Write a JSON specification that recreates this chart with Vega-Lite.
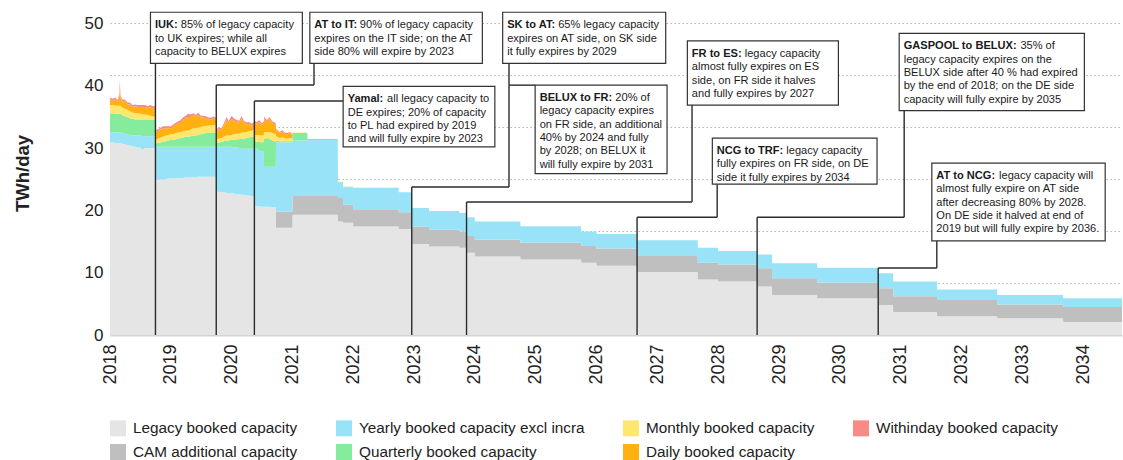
{
  "$schema": "https://vega.github.io/schema/vega-lite/v6.json",
  "width": 1012,
  "height": 324,
  "autosize": {"type": "none"},
  "padding": {"left": 110, "top": 11, "right": 1, "bottom": 125},
  "background": "white",
  "config": {"view": {"stroke": null}, "font": "Liberation Sans"},
  "datasets": {
    "cap": [
      {"date":"2018-01-01","L":30.9,"C":0,"Y":1.7,"Q":3.0,"M":1.3,"D":0.9,"W":0.3},
      {"date":"2018-01-15","L":30.9,"C":0,"Y":1.7,"Q":3.0,"M":1.3,"D":0.7,"W":0.3},
      {"date":"2018-02-01","L":30.8,"C":0,"Y":1.7,"Q":3.0,"M":1.3,"D":1.0,"W":0.3},
      {"date":"2018-02-15","L":30.8,"C":0,"Y":1.7,"Q":3.0,"M":1.3,"D":0.6,"W":0.3},
      {"date":"2018-02-26","L":30.8,"C":0,"Y":1.7,"Q":3.0,"M":1.3,"D":1.4,"W":0.4},
      {"date":"2018-03-01","L":30.8,"C":0,"Y":1.7,"Q":3.0,"M":1.3,"D":2.9,"W":1.2},
      {"date":"2018-03-05","L":30.8,"C":0,"Y":1.7,"Q":3.0,"M":1.3,"D":1.3,"W":0.4},
      {"date":"2018-03-15","L":30.7,"C":0,"Y":1.7,"Q":2.9,"M":1.2,"D":1.0,"W":0.3},
      {"date":"2018-04-01","L":30.6,"C":0,"Y":1.7,"Q":2.8,"M":1.2,"D":1.2,"W":0.3},
      {"date":"2018-04-15","L":30.5,"C":0,"Y":1.7,"Q":2.8,"M":1.1,"D":0.9,"W":0.3},
      {"date":"2018-05-01","L":30.4,"C":0,"Y":1.7,"Q":2.7,"M":1.1,"D":1.1,"W":0.3},
      {"date":"2018-05-15","L":30.3,"C":0,"Y":1.7,"Q":2.7,"M":1.0,"D":0.9,"W":0.3},
      {"date":"2018-06-01","L":30.2,"C":0,"Y":1.8,"Q":2.6,"M":1.0,"D":1.1,"W":0.3},
      {"date":"2018-06-15","L":30.1,"C":0,"Y":1.9,"Q":2.6,"M":1.0,"D":1.0,"W":0.3},
      {"date":"2018-07-01","L":30.1,"C":0,"Y":1.9,"Q":2.6,"M":0.9,"D":1.1,"W":0.3},
      {"date":"2018-07-15","L":29.7,"C":0,"Y":2.2,"Q":2.6,"M":0.9,"D":1.2,"W":0.3},
      {"date":"2018-08-01","L":30.0,"C":0,"Y":1.9,"Q":2.6,"M":0.9,"D":1.2,"W":0.3},
      {"date":"2018-08-15","L":30.0,"C":0,"Y":1.9,"Q":2.6,"M":0.8,"D":1.1,"W":0.3},
      {"date":"2018-09-01","L":30.0,"C":0,"Y":1.9,"Q":2.6,"M":0.7,"D":1.4,"W":0.3},
      {"date":"2018-09-15","L":30.0,"C":0,"Y":1.9,"Q":2.6,"M":0.6,"D":1.3,"W":0.3},
      {"date":"2018-09-30","L":30.0,"C":0,"Y":1.9,"Q":2.6,"M":0.5,"D":1.4,"W":0.3},
      {"date":"2018-10-01","L":24.9,"C":0,"Y":5.3,"Q":0.5,"M":0.6,"D":1.3,"W":0.3},
      {"date":"2018-10-15","L":24.9,"C":0,"Y":5.3,"Q":0.6,"M":0.7,"D":1.2,"W":0.3},
      {"date":"2018-11-01","L":25.0,"C":0,"Y":5.2,"Q":0.7,"M":0.8,"D":1.3,"W":0.3},
      {"date":"2018-11-15","L":25.0,"C":0,"Y":5.2,"Q":0.8,"M":0.8,"D":1.4,"W":0.3},
      {"date":"2018-12-01","L":25.0,"C":0,"Y":5.2,"Q":0.9,"M":0.9,"D":1.2,"W":0.3},
      {"date":"2018-12-15","L":25.1,"C":0,"Y":5.1,"Q":1.0,"M":0.9,"D":1.1,"W":0.3},
      {"date":"2019-01-01","L":25.1,"C":0,"Y":5.1,"Q":1.1,"M":0.9,"D":1.0,"W":0.3},
      {"date":"2019-01-15","L":25.1,"C":0,"Y":5.1,"Q":1.1,"M":0.9,"D":1.3,"W":0.3},
      {"date":"2019-02-01","L":25.2,"C":0,"Y":5.0,"Q":1.2,"M":1.0,"D":1.4,"W":0.3},
      {"date":"2019-02-15","L":25.2,"C":0,"Y":5.0,"Q":1.3,"M":1.0,"D":1.5,"W":0.3},
      {"date":"2019-03-01","L":25.2,"C":0,"Y":5.0,"Q":1.4,"M":1.0,"D":1.6,"W":0.3},
      {"date":"2019-03-15","L":25.2,"C":0,"Y":5.0,"Q":1.5,"M":1.0,"D":1.8,"W":0.4},
      {"date":"2019-04-01","L":25.3,"C":0,"Y":4.9,"Q":1.6,"M":1.0,"D":2.0,"W":0.4},
      {"date":"2019-04-15","L":25.3,"C":0,"Y":4.9,"Q":1.6,"M":1.0,"D":2.2,"W":0.5},
      {"date":"2019-05-01","L":25.3,"C":0,"Y":4.9,"Q":1.7,"M":1.1,"D":2.0,"W":0.4},
      {"date":"2019-05-15","L":25.3,"C":0,"Y":4.9,"Q":1.8,"M":1.2,"D":2.1,"W":0.3},
      {"date":"2019-06-01","L":25.3,"C":0,"Y":4.9,"Q":1.8,"M":1.2,"D":1.8,"W":0.3},
      {"date":"2019-06-15","L":25.4,"C":0,"Y":4.8,"Q":1.9,"M":1.2,"D":2.0,"W":0.4},
      {"date":"2019-07-01","L":25.4,"C":0,"Y":4.8,"Q":2.0,"M":1.2,"D":1.5,"W":0.3},
      {"date":"2019-07-15","L":25.4,"C":0,"Y":4.8,"Q":2.1,"M":1.2,"D":1.4,"W":0.3},
      {"date":"2019-08-01","L":25.4,"C":0,"Y":4.8,"Q":2.2,"M":1.2,"D":1.2,"W":0.3},
      {"date":"2019-08-15","L":25.4,"C":0,"Y":4.8,"Q":2.2,"M":1.2,"D":1.0,"W":0.3},
      {"date":"2019-09-01","L":25.4,"C":0,"Y":4.8,"Q":2.3,"M":1.2,"D":0.9,"W":0.3},
      {"date":"2019-09-15","L":25.4,"C":0,"Y":4.8,"Q":2.3,"M":1.2,"D":1.1,"W":0.3},
      {"date":"2019-09-30","L":25.4,"C":0,"Y":4.8,"Q":2.3,"M":1.2,"D":0.8,"W":0.3},
      {"date":"2019-10-01","L":23.0,"C":0,"Y":7.2,"Q":0.6,"M":0.6,"D":1.3,"W":0.3},
      {"date":"2019-10-15","L":23.0,"C":0,"Y":7.2,"Q":0.7,"M":0.6,"D":1.5,"W":0.3},
      {"date":"2019-11-01","L":22.9,"C":0,"Y":7.3,"Q":0.8,"M":0.6,"D":1.3,"W":0.3},
      {"date":"2019-11-15","L":22.9,"C":0,"Y":7.3,"Q":0.9,"M":0.7,"D":1.8,"W":0.3},
      {"date":"2019-12-01","L":22.8,"C":0,"Y":7.4,"Q":1.0,"M":0.8,"D":2.6,"W":0.4},
      {"date":"2019-12-15","L":22.8,"C":0,"Y":7.4,"Q":1.0,"M":0.8,"D":2.0,"W":0.3},
      {"date":"2020-01-01","L":22.7,"C":0,"Y":7.5,"Q":1.1,"M":0.8,"D":2.6,"W":0.5},
      {"date":"2020-01-15","L":22.7,"C":0,"Y":7.4,"Q":1.2,"M":0.9,"D":2.2,"W":0.4},
      {"date":"2020-02-01","L":22.6,"C":0,"Y":7.5,"Q":1.3,"M":0.9,"D":1.9,"W":0.3},
      {"date":"2020-02-15","L":22.6,"C":0,"Y":7.4,"Q":1.4,"M":0.9,"D":1.8,"W":0.3},
      {"date":"2020-03-01","L":22.5,"C":0,"Y":7.5,"Q":1.5,"M":1.0,"D":2.2,"W":0.4},
      {"date":"2020-03-15","L":22.5,"C":0,"Y":7.4,"Q":1.6,"M":1.0,"D":1.6,"W":0.3},
      {"date":"2020-04-01","L":22.4,"C":0,"Y":7.5,"Q":1.7,"M":1.0,"D":1.2,"W":0.3},
      {"date":"2020-04-15","L":22.4,"C":0,"Y":7.5,"Q":1.8,"M":1.0,"D":1.2,"W":0.3},
      {"date":"2020-05-01","L":22.3,"C":0,"Y":7.6,"Q":1.9,"M":1.0,"D":0.8,"W":0.3},
      {"date":"2020-05-16","L":22.3,"C":0,"Y":7.6,"Q":2.0,"M":1.1,"D":0.9,"W":0.3},
      {"date":"2020-05-17","L":20.7,"C":0,"Y":9.5,"Q":0.8,"M":1.1,"D":2.0,"W":0.3},
      {"date":"2020-06-01","L":20.7,"C":0,"Y":9.2,"Q":1.1,"M":1.1,"D":1.8,"W":0.3},
      {"date":"2020-06-15","L":20.7,"C":0,"Y":8.9,"Q":1.4,"M":1.1,"D":2.1,"W":0.3},
      {"date":"2020-07-01","L":20.6,"C":0,"Y":8.8,"Q":1.5,"M":1.1,"D":1.7,"W":0.3},
      {"date":"2020-07-13","L":20.6,"C":0,"Y":8.8,"Q":1.6,"M":1.1,"D":1.9,"W":0.3},
      {"date":"2020-07-14","L":20.6,"C":0,"Y":6.4,"Q":4.4,"M":1.2,"D":2.1,"W":0.3},
      {"date":"2020-08-01","L":20.6,"C":0,"Y":6.4,"Q":4.6,"M":1.0,"D":1.6,"W":0.3},
      {"date":"2020-08-15","L":20.6,"C":0,"Y":6.4,"Q":4.5,"M":1.1,"D":2.1,"W":0.3},
      {"date":"2020-09-01","L":20.5,"C":0,"Y":6.5,"Q":4.2,"M":1.2,"D":1.6,"W":0.3},
      {"date":"2020-09-23","L":20.5,"C":0,"Y":6.5,"Q":4.0,"M":1.2,"D":1.5,"W":0.3},
      {"date":"2020-09-24","L":17.2,"C":2.6,"Y":11.1,"Q":0.3,"M":0.7,"D":1.0,"W":0.2},
      {"date":"2020-10-15","L":17.2,"C":2.6,"Y":11.1,"Q":0.2,"M":0.5,"D":0.8,"W":0.2},
      {"date":"2020-11-01","L":17.2,"C":2.6,"Y":11.1,"Q":0.2,"M":0.6,"D":1.0,"W":0.2},
      {"date":"2020-11-15","L":17.2,"C":2.6,"Y":11.1,"Q":0.2,"M":0.5,"D":0.7,"W":0.2},
      {"date":"2020-12-01","L":17.2,"C":2.6,"Y":11.1,"Q":0.2,"M":0.4,"D":0.7,"W":0.2},
      {"date":"2020-12-15","L":17.2,"C":2.6,"Y":11.1,"Q":0.2,"M":0.5,"D":0.8,"W":0.2},
      {"date":"2020-12-31","L":17.2,"C":2.6,"Y":11.1,"Q":0.2,"M":0.4,"D":0.6,"W":0.2},
      {"date":"2021-01-01","L":19.3,"C":3.0,"Y":8.9,"Q":1.2,"M":0.1,"D":0,"W":0},
      {"date":"2021-03-31","L":19.3,"C":3.0,"Y":8.9,"Q":1.2,"M":0.1,"D":0,"W":0},
      {"date":"2021-04-01","L":19.3,"C":3.0,"Y":9.0,"Q":0.15,"M":0,"D":0,"W":0},
      {"date":"2021-09-30","L":19.3,"C":3.0,"Y":9.0,"Q":0.15,"M":0,"D":0,"W":0},
      {"date":"2021-10-01","L":18.2,"C":3.8,"Y":2.4,"Q":0.1,"M":0,"D":0,"W":0},
      {"date":"2021-10-31","L":18.2,"C":3.8,"Y":2.4,"Q":0.1,"M":0,"D":0,"W":0},
      {"date":"2021-11-01","L":18.0,"C":2.9,"Y":2.8,"Q":0.1,"M":0,"D":0,"W":0},
      {"date":"2021-12-31","L":18.0,"C":2.9,"Y":2.8,"Q":0.1,"M":0,"D":0,"W":0},
      {"date":"2022-01-01","L":17.4,"C":2.8,"Y":3.4,"Q":0,"M":0.08,"D":0,"W":0},
      {"date":"2022-09-30","L":17.4,"C":2.8,"Y":3.4,"Q":0,"M":0.08,"D":0,"W":0},
      {"date":"2022-10-01","L":17.0,"C":2.7,"Y":3.2,"Q":0,"M":0,"D":0,"W":0},
      {"date":"2022-12-17","L":17.0,"C":2.7,"Y":3.2,"Q":0,"M":0,"D":0,"W":0},
      {"date":"2022-12-18","L":14.6,"C":2.8,"Y":3.0,"Q":0,"M":0,"D":0,"W":0},
      {"date":"2023-03-31","L":14.6,"C":2.8,"Y":3.0,"Q":0,"M":0,"D":0,"W":0},
      {"date":"2023-04-01","L":14.2,"C":2.7,"Y":3.0,"Q":0,"M":0,"D":0,"W":0},
      {"date":"2023-09-30","L":14.2,"C":2.7,"Y":3.0,"Q":0,"M":0,"D":0,"W":0},
      {"date":"2023-10-01","L":14.0,"C":2.6,"Y":3.0,"Q":0,"M":0,"D":0,"W":0},
      {"date":"2023-11-11","L":14.0,"C":2.6,"Y":3.0,"Q":0,"M":0,"D":0,"W":0},
      {"date":"2023-11-12","L":13.2,"C":2.7,"Y":3.0,"Q":0,"M":0,"D":0,"W":0},
      {"date":"2023-12-31","L":13.2,"C":2.7,"Y":3.0,"Q":0,"M":0,"D":0,"W":0},
      {"date":"2024-01-01","L":12.6,"C":2.7,"Y":2.9,"Q":0,"M":0,"D":0,"W":0},
      {"date":"2024-09-30","L":12.6,"C":2.7,"Y":2.9,"Q":0,"M":0,"D":0,"W":0},
      {"date":"2024-10-01","L":12.1,"C":2.7,"Y":2.65,"Q":0,"M":0,"D":0,"W":0},
      {"date":"2025-09-30","L":12.1,"C":2.7,"Y":2.65,"Q":0,"M":0,"D":0,"W":0},
      {"date":"2025-10-01","L":11.6,"C":2.7,"Y":2.3,"Q":0,"M":0,"D":0,"W":0},
      {"date":"2025-12-31","L":11.6,"C":2.7,"Y":2.3,"Q":0,"M":0,"D":0,"W":0},
      {"date":"2026-01-01","L":11.1,"C":2.8,"Y":2.3,"Q":0,"M":0,"D":0,"W":0},
      {"date":"2026-08-31","L":11.1,"C":2.8,"Y":2.3,"Q":0,"M":0,"D":0,"W":0},
      {"date":"2026-09-01","L":10.1,"C":2.7,"Y":2.4,"Q":0,"M":0,"D":0,"W":0},
      {"date":"2027-08-31","L":10.1,"C":2.7,"Y":2.4,"Q":0,"M":0,"D":0,"W":0},
      {"date":"2027-09-01","L":8.9,"C":2.7,"Y":2.4,"Q":0,"M":0,"D":0,"W":0},
      {"date":"2027-12-31","L":8.9,"C":2.7,"Y":2.4,"Q":0,"M":0,"D":0,"W":0},
      {"date":"2028-01-01","L":8.6,"C":2.7,"Y":2.2,"Q":0,"M":0,"D":0,"W":0},
      {"date":"2028-08-21","L":8.6,"C":2.7,"Y":2.2,"Q":0,"M":0,"D":0,"W":0},
      {"date":"2028-08-22","L":7.8,"C":2.9,"Y":2.2,"Q":0,"M":0,"D":0,"W":0},
      {"date":"2028-11-19","L":7.8,"C":2.9,"Y":2.2,"Q":0,"M":0,"D":0,"W":0},
      {"date":"2028-11-20","L":6.4,"C":2.7,"Y":2.4,"Q":0,"M":0,"D":0,"W":0},
      {"date":"2029-08-17","L":6.4,"C":2.7,"Y":2.4,"Q":0,"M":0,"D":0,"W":0},
      {"date":"2029-08-18","L":5.9,"C":2.5,"Y":2.4,"Q":0,"M":0,"D":0,"W":0},
      {"date":"2030-08-18","L":5.9,"C":2.5,"Y":2.4,"Q":0,"M":0,"D":0,"W":0},
      {"date":"2030-08-19","L":4.8,"C":2.7,"Y":2.4,"Q":0,"M":0,"D":0,"W":0},
      {"date":"2030-11-16","L":4.8,"C":2.7,"Y":2.4,"Q":0,"M":0,"D":0,"W":0},
      {"date":"2030-11-17","L":3.7,"C":2.5,"Y":2.4,"Q":0,"M":0,"D":0,"W":0},
      {"date":"2031-08-07","L":3.7,"C":2.5,"Y":2.4,"Q":0,"M":0,"D":0,"W":0},
      {"date":"2031-08-08","L":3.0,"C":2.6,"Y":1.7,"Q":0,"M":0,"D":0,"W":0},
      {"date":"2032-08-02","L":3.0,"C":2.6,"Y":1.7,"Q":0,"M":0,"D":0,"W":0},
      {"date":"2032-08-03","L":2.7,"C":2.2,"Y":1.5,"Q":0,"M":0,"D":0,"W":0},
      {"date":"2033-09-02","L":2.7,"C":2.2,"Y":1.5,"Q":0,"M":0,"D":0,"W":0},
      {"date":"2033-09-03","L":2.1,"C":2.4,"Y":1.4,"Q":0,"M":0,"D":0,"W":0},
      {"date":"2034-08-22","L":2.1,"C":2.4,"Y":1.4,"Q":0,"M":0,"D":0,"W":0}
    ],
    "boxes": [
      {"id":1,"title":"IUK:","rest":"85% of legacy capacity","body":["to UK expires; while all","capacity to BELUX expires"],"x1":"2018-09-01","x2":"2021-03-01","yt":51.8,"yb":43.6},
      {"id":2,"title":"AT to IT:","rest":"90% of legacy capacity","body":["expires on the IT side; on the AT","side 80% will expire by 2023"],"x1":"2021-04-15","x2":"2024-02-15","yt":51.8,"yb":43.6},
      {"id":3,"title":"Yamal:","rest":"all legacy capacity to","body":["DE expires; 20% of capacity","to PL had expired by 2019","and will fully expire by 2023"],"x1":"2021-11-01","x2":"2024-04-30","yt":39.9,"yb":30.2},
      {"id":4,"title":"SK to AT:","rest":"65% legacy capacity","body":["expires on AT side, on SK side","it fully expires by 2029"],"x1":"2024-06-16","x2":"2027-02-20","yt":51.8,"yb":43.6},
      {"id":5,"title":"BELUX to FR:","rest":"20% of","body":["legacy capacity expires","on FR side, an additional","40% by 2024 and fully","by 2028; on BELUX it","will fully expire by 2031"],"x1":"2024-12-28","x2":"2027-02-28","yt":40.1,"yb":25.9},
      {"id":6,"title":"FR to ES:","rest":"legacy capacity","body":["almost fully expires on ES","side, on FR side it halves","and fully expires by 2027"],"x1":"2027-06-30","x2":"2029-12-23","yt":47.2,"yb":36.9},
      {"id":7,"title":"NCG to TRF:","rest":"legacy capacity","body":["fully expires on FR side, on DE","side it fully expires by 2034"],"x1":"2027-11-27","x2":"2030-08-12","yt":31.6,"yb":24.2},
      {"id":8,"title":"GASPOOL to BELUX:","rest":"35% of","body":["legacy capacity expires on the","BELUX side after 40 % had expired","by the end of 2018; on the DE side","capacity will fully expire by 2035"],"x1":"2030-12-23","x2":"2034-01-08","yt":48.4,"yb":36.0},
      {"id":9,"title":"AT to NCG:","rest":"legacy capacity will","body":["almost fully expire on AT side","after decreasing 80% by 2028.","On DE side it halved at end of","2019 but will fully expire by 2036."],"x1":"2031-07-07","x2":"2034-05-13","yt":27.6,"yb":15.1}
    ],
    "segs": [
      {"xa":"2018-10-01","xb":"2018-10-01","ya":43.6,"yb":0},
      {"xa":"2021-05-10","xb":"2021-05-10","ya":43.6,"yb":40.13},
      {"xa":"2019-10-01","xb":"2021-05-10","ya":40.13,"yb":40.13},
      {"xa":"2019-10-01","xb":"2019-10-01","ya":40.13,"yb":0},
      {"xa":"2020-05-17","xb":"2021-11-01","ya":37.56,"yb":37.56},
      {"xa":"2020-05-17","xb":"2020-05-17","ya":37.56,"yb":0},
      {"xa":"2024-07-24","xb":"2024-07-24","ya":43.6,"yb":23.76},
      {"xa":"2022-12-18","xb":"2024-07-24","ya":23.76,"yb":23.76},
      {"xa":"2022-12-18","xb":"2022-12-18","ya":23.76,"yb":0},
      {"xa":"2024-07-24","xb":"2024-12-28","ya":40.1,"yb":40.1},
      {"xa":"2027-07-28","xb":"2027-07-28","ya":36.9,"yb":21.35},
      {"xa":"2023-11-12","xb":"2027-07-28","ya":21.35,"yb":21.35},
      {"xa":"2023-11-12","xb":"2023-11-12","ya":21.35,"yb":0},
      {"xa":"2027-12-26","xb":"2027-12-26","ya":24.2,"yb":18.9},
      {"xa":"2026-09-01","xb":"2027-12-26","ya":18.9,"yb":18.9},
      {"xa":"2026-09-01","xb":"2026-09-01","ya":18.9,"yb":0},
      {"xa":"2031-01-22","xb":"2031-01-22","ya":36.0,"yb":18.9},
      {"xa":"2028-08-22","xb":"2031-01-22","ya":18.9,"yb":18.9},
      {"xa":"2028-08-22","xb":"2028-08-22","ya":18.9,"yb":0},
      {"xa":"2031-08-06","xb":"2031-08-06","ya":15.1,"yb":10.75},
      {"xa":"2030-08-19","xb":"2031-08-06","ya":10.75,"yb":10.75},
      {"xa":"2030-08-19","xb":"2030-08-19","ya":10.75,"yb":0}
    ]
  },
  "layer": [
    {
      "data": {"name": "cap"},
      "transform": [
        {"fold": ["L","C","Y","Q","M","D","W"], "as": ["series","val"]},
        {"calculate": "indexof(['L','C','Y','Q','M','D','W'], datum.series)", "as": "rank"}
      ],
      "mark": {"type": "area", "interpolate": "linear"},
      "encoding": {
        "x": {"field": "date", "type": "temporal", "title": null,
          "scale": {"type": "utc", "domain": [{"year": 2018, "month": 1, "date": 1, "utc": true}, {"year": 2034, "month": 8, "date": 22, "utc": true}], "nice": false},
          "axis": {"format": "%Y", "tickCount": {"interval": "year", "step": 1}, "labelAngle": -90, "labelAlign": "right", "labelBaseline": "middle", "labelPadding": 9, "ticks": false, "grid": false, "domainColor": "#cfd4d4", "domainWidth": 2, "labelFont": "Liberation Sans", "labelFontSize": 18, "labelColor": "#222", "labelOverlap": false, "labelFlush": false}},
        "y": {"field": "val", "type": "quantitative", "stack": "zero", "title": "TWh/day",
          "scale": {"domain": [0, 52], "nice": false, "zero": true},
          "axis": {"orient": "left", "values": [0,10,20,30,40,50], "grid": false, "ticks": false, "domain": false, "labelPadding": 7, "labelFont": "Liberation Sans", "labelFontSize": 17, "labelColor": "#222", "titleFont": "Liberation Sans", "titleFontWeight": "bold", "titleFontSize": 18.5, "titleColor": "#222", "titlePadding": 52}},
        "color": {"field": "series", "type": "nominal",
          "scale": {"domain": ["L","Y","M","W","C","Q","D"], "range": ["#e5e5e5","#98e3f8","#fde76e","#f98a86","#bfbfbf","#84ec9c","#ffb20f"]},
          "legend": {"orient": "bottom", "direction": "horizontal", "columns": 4, "title": null, "symbolType": "square", "symbolSize": 256, "symbolStrokeWidth": 0, "symbolOpacity": 1, "labelFont": "Liberation Sans", "labelFontSize": 15.3, "labelColor": "#222", "labelLimit": 400, "columnPadding": 38, "rowPadding": 7, "labelOffset": 7, "offset": 35,
            "labelExpr": "datum.label == 'L' ? 'Legacy booked capacity' : datum.label == 'C' ? 'CAM additional capacity' : datum.label == 'Y' ? 'Yearly booked capacity excl incra' : datum.label == 'Q' ? 'Quarterly booked capacity' : datum.label == 'M' ? 'Monthly booked capacity' : datum.label == 'D' ? 'Daily booked capacity' : 'Withinday booked capacity'"}},
        "order": {"field": "rank", "type": "quantitative"}
      }
    },
    {
      "data": {"name": "segs"},
      "mark": {"type": "rule", "color": "#2b2b2b", "strokeWidth": 1.4},
      "encoding": {
        "x": {"field": "xa", "type": "temporal", "title": null},
        "x2": {"field": "xb"},
        "y": {"field": "ya", "type": "quantitative", "title": null,
          "axis": {"orient": "left", "values": [8.3333, 16.6667, 25, 33.3333, 41.6667, 50], "grid": true, "gridDash": [1.5, 2.5], "gridColor": "#b5b5b5", "gridWidth": 1, "labels": false, "ticks": false, "domain": false, "title": null}},
        "y2": {"field": "yb"}
      }
    },
    {
      "data": {"name": "boxes"},
      "mark": {"type": "rect", "fill": "white", "stroke": "#333", "strokeWidth": 1.2},
      "encoding": {
        "x": {"field": "x1", "type": "temporal", "title": null},
        "x2": {"field": "x2"},
        "y": {"field": "yt", "type": "quantitative", "title": null, "axis": null},
        "y2": {"field": "yb"}
      }
    },
    {
      "data": {"name": "boxes"},
      "mark": {"type": "text", "align": "left", "baseline": "alphabetic", "dx": 4.5, "dy": 16, "font": "Liberation Sans", "fontSize": 11.07, "fontWeight": "bold", "color": "#1a1a1a"},
      "encoding": {
        "x": {"field": "x1", "type": "temporal", "title": null},
        "y": {"field": "yt", "type": "quantitative", "title": null, "axis": null},
        "text": {"field": "title"}
      }
    },
    {
      "data": {"name": "boxes"}, "transform": [{"filter": "datum.id == 1"}],
      "mark": {"type": "text", "align": "left", "baseline": "alphabetic", "dx": 30.3, "dy": 16, "font": "Liberation Sans", "fontSize": 11.07, "color": "#1a1a1a"},
      "encoding": {"x": {"field": "x1", "type": "temporal", "title": null}, "y": {"field": "yt", "type": "quantitative", "title": null, "axis": null}, "text": {"field": "rest"}}
    },
    {
      "data": {"name": "boxes"}, "transform": [{"filter": "datum.id == 2"}],
      "mark": {"type": "text", "align": "left", "baseline": "alphabetic", "dx": 50.0, "dy": 16, "font": "Liberation Sans", "fontSize": 11.07, "color": "#1a1a1a"},
      "encoding": {"x": {"field": "x1", "type": "temporal", "title": null}, "y": {"field": "yt", "type": "quantitative", "title": null, "axis": null}, "text": {"field": "rest"}}
    },
    {
      "data": {"name": "boxes"}, "transform": [{"filter": "datum.id == 3"}],
      "mark": {"type": "text", "align": "left", "baseline": "alphabetic", "dx": 43.9, "dy": 16, "font": "Liberation Sans", "fontSize": 11.07, "color": "#1a1a1a"},
      "encoding": {"x": {"field": "x1", "type": "temporal", "title": null}, "y": {"field": "yt", "type": "quantitative", "title": null, "axis": null}, "text": {"field": "rest"}}
    },
    {
      "data": {"name": "boxes"}, "transform": [{"filter": "datum.id == 4"}],
      "mark": {"type": "text", "align": "left", "baseline": "alphabetic", "dx": 55.5, "dy": 16, "font": "Liberation Sans", "fontSize": 11.07, "color": "#1a1a1a"},
      "encoding": {"x": {"field": "x1", "type": "temporal", "title": null}, "y": {"field": "yt", "type": "quantitative", "title": null, "axis": null}, "text": {"field": "rest"}}
    },
    {
      "data": {"name": "boxes"}, "transform": [{"filter": "datum.id == 5"}],
      "mark": {"type": "text", "align": "left", "baseline": "alphabetic", "dx": 80.2, "dy": 16, "font": "Liberation Sans", "fontSize": 11.07, "color": "#1a1a1a"},
      "encoding": {"x": {"field": "x1", "type": "temporal", "title": null}, "y": {"field": "yt", "type": "quantitative", "title": null, "axis": null}, "text": {"field": "rest"}}
    },
    {
      "data": {"name": "boxes"}, "transform": [{"filter": "datum.id == 6"}],
      "mark": {"type": "text", "align": "left", "baseline": "alphabetic", "dx": 57.4, "dy": 16, "font": "Liberation Sans", "fontSize": 11.07, "color": "#1a1a1a"},
      "encoding": {"x": {"field": "x1", "type": "temporal", "title": null}, "y": {"field": "yt", "type": "quantitative", "title": null, "axis": null}, "text": {"field": "rest"}}
    },
    {
      "data": {"name": "boxes"}, "transform": [{"filter": "datum.id == 7"}],
      "mark": {"type": "text", "align": "left", "baseline": "alphabetic", "dx": 74.0, "dy": 16, "font": "Liberation Sans", "fontSize": 11.07, "color": "#1a1a1a"},
      "encoding": {"x": {"field": "x1", "type": "temporal", "title": null}, "y": {"field": "yt", "type": "quantitative", "title": null, "axis": null}, "text": {"field": "rest"}}
    },
    {
      "data": {"name": "boxes"}, "transform": [{"filter": "datum.id == 8"}],
      "mark": {"type": "text", "align": "left", "baseline": "alphabetic", "dx": 121.2, "dy": 16, "font": "Liberation Sans", "fontSize": 11.07, "color": "#1a1a1a"},
      "encoding": {"x": {"field": "x1", "type": "temporal", "title": null}, "y": {"field": "yt", "type": "quantitative", "title": null, "axis": null}, "text": {"field": "rest"}}
    },
    {
      "data": {"name": "boxes"}, "transform": [{"filter": "datum.id == 9"}],
      "mark": {"type": "text", "align": "left", "baseline": "alphabetic", "dx": 67.2, "dy": 16, "font": "Liberation Sans", "fontSize": 11.07, "color": "#1a1a1a"},
      "encoding": {"x": {"field": "x1", "type": "temporal", "title": null}, "y": {"field": "yt", "type": "quantitative", "title": null, "axis": null}, "text": {"field": "rest"}}
    },
    {
      "data": {"name": "boxes"},
      "mark": {"type": "text", "align": "left", "baseline": "alphabetic", "dx": 4.5, "dy": 29.3, "lineHeight": 13.3, "font": "Liberation Sans", "fontSize": 11.07, "color": "#1a1a1a"},
      "encoding": {
        "x": {"field": "x1", "type": "temporal", "title": null},
        "y": {"field": "yt", "type": "quantitative", "title": null, "axis": null},
        "text": {"field": "body"}
      }
    }
  ],
  "resolve": {"axis": {"y": "independent"}}
}
